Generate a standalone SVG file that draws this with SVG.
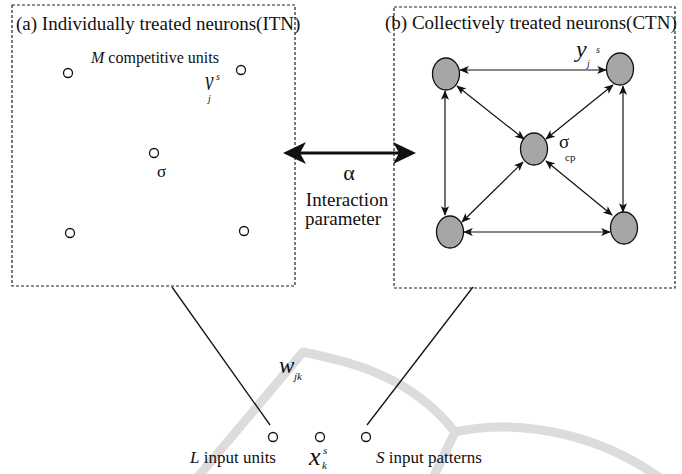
<svg xmlns="http://www.w3.org/2000/svg" width="682" height="474" viewBox="0 0 682 474">
<defs>
<style>
.t{font-family:"Liberation Serif","Times New Roman",serif;fill:#111}
.it{font-style:italic}
.box{fill:none;stroke:#222;stroke-width:1.2;stroke-dasharray:3 2}
.oc{fill:#fff;stroke:#111;stroke-width:1.3}
.gn{fill:#a6a6a6;stroke:#111;stroke-width:1.3}
.e{stroke:#111;stroke-width:1.2;fill:none;marker-start:url(#ah);marker-end:url(#ah)}
.ln{stroke:#111;stroke-width:1.3;fill:none}
.wm{fill:none;stroke:#dcdcdc;stroke-width:9;stroke-linecap:round;stroke-linejoin:round}
</style>
<marker id="ah" viewBox="0 0 12 10" refX="11" refY="5" markerWidth="10" markerHeight="8" markerUnits="userSpaceOnUse" orient="auto-start-reverse">
<path d="M0,0 L12,5 L0,10 L3,5 z" fill="#111"/>
</marker>
</defs>
<rect width="682" height="474" fill="#fff"/>
<g id="watermark">
<path class="wm" d="M197,478 L303,352 C350,362 410,375 455,432"/>
<path class="wm" d="M455,432 L433,478"/>
<path class="wm" d="M455,432 C510,420 590,428 660,478"/>
</g>
<g id="box-itn">
<rect class="box" x="12" y="5" width="283" height="281"/>
<text class="t" x="16" y="30" font-size="19">(a) Individually treated neurons(ITN)</text>
<text class="t" x="91" y="63" font-size="16"><tspan class="it">M</tspan> competitive units</text>
</g>
<g id="box-ctn">
<rect class="box" x="394" y="7" width="281" height="281"/>
<text class="t" x="385" y="29" font-size="19">(b) Collectively treated neurons(CTN)</text>
</g>
<g id="itn-units">
<circle class="oc" cx="68" cy="73" r="4.5"/>
<circle class="oc" cx="241" cy="70" r="4.5"/>
<circle class="oc" cx="154" cy="153" r="4.5"/>
<circle class="oc" cx="70" cy="233" r="4.5"/>
<circle class="oc" cx="244" cy="231" r="4.5"/>
<text class="t it" x="205" y="90" font-size="24" transform="translate(205 90) scale(0.8 1.15) translate(-205 -90)">v</text>
<text class="t it" x="208" y="102" font-size="10">j</text>
<text class="t it" x="216" y="80" font-size="10">s</text>
<text class="t" x="157" y="177" font-size="17">σ</text>
</g>
<g id="ctn-tl"><ellipse class="gn" cx="446" cy="74" rx="13.5" ry="16"/></g>
<g id="ctn-tr"><ellipse class="gn" cx="620" cy="69" rx="13.5" ry="16"/></g>
<g id="ctn-c"><ellipse class="gn" cx="534" cy="149" rx="13.5" ry="16"/>
<text class="t" x="559" y="148" font-size="19">σ</text>
<text class="t" x="565" y="161" font-size="11">cp</text>
</g>
<g id="ctn-bl"><ellipse class="gn" cx="450" cy="232" rx="13.5" ry="16"/></g>
<g id="ctn-br"><ellipse class="gn" cx="624" cy="228" rx="13.5" ry="16"/></g>
<g id="ctn-label">
<text class="t it" x="576" y="57" font-size="24">y</text>
<text class="t it" x="587" y="67" font-size="10">j</text>
<text class="t it" x="596" y="53" font-size="10">s</text>
</g>
<g id="connectors">
<line class="e" x1="460" y1="70" x2="606" y2="70"/>
<line class="e" x1="445" y1="91" x2="445" y2="215"/>
<line class="e" x1="623" y1="86" x2="623" y2="212"/>
<line class="e" x1="464" y1="232" x2="610" y2="232"/>
<line class="e" x1="457" y1="86" x2="524" y2="139"/>
<line class="e" x1="613" y1="85" x2="546" y2="139"/>
<line class="e" x1="523" y1="162" x2="462" y2="222"/>
<line class="e" x1="546" y1="161" x2="612" y2="215"/>
<line class="ln" x1="172" y1="287" x2="270" y2="425"/>
<line class="ln" x1="473" y1="287" x2="367" y2="425"/>
<g id="alpha-arrow">
<line x1="298" y1="153" x2="401" y2="153" stroke="#111" stroke-width="3.2"/>
<path d="M283,153 L306,142 L300,153 L306,164 z" fill="#111"/>
<path d="M416,153 L393,142 L399,153 L393,164 z" fill="#111"/>
</g>
</g>
<g id="alpha-label">
<text class="t" x="349" y="180" font-size="22" text-anchor="middle">α</text>
<text class="t" x="347" y="206" font-size="19" text-anchor="middle">Interaction</text>
<text class="t" x="343" y="225" font-size="19" text-anchor="middle">parameter</text>
</g>
<g id="inputs">
<circle class="oc" cx="273" cy="437" r="4.5"/>
<circle class="oc" cx="320" cy="437" r="4.5"/>
<circle class="oc" cx="366" cy="437" r="4.5"/>
<text class="t" x="190" y="463" font-size="17"><tspan class="it">L</tspan> input units</text>
<text class="t it" x="309" y="465" font-size="26">x</text>
<text class="t it" x="322" y="469" font-size="11">k</text>
<text class="t it" x="323" y="454" font-size="11">s</text>
<text class="t" x="376" y="463" font-size="17"><tspan class="it">S</tspan> input patterns</text>
<text class="t it" x="279" y="373" font-size="23">w</text>
<text class="t it" x="294" y="380" font-size="11">jk</text>
</g>
</svg>
